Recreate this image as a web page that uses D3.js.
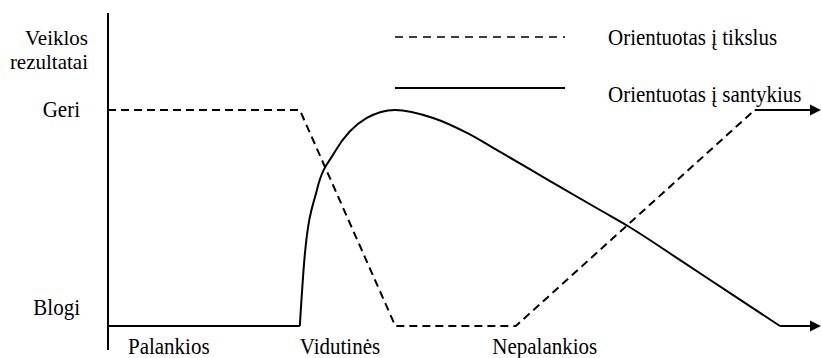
<!DOCTYPE html>
<html><head><meta charset="utf-8">
<script src="https://cdn.jsdelivr.net/npm/d3@7"></script>
<style>body{margin:0;background:#fff}svg{display:block}</style>
</head><body><svg id="c" width="821" height="358"></svg>
<script>
// Conditions (x-axis categories) and their positions on a 0-100 scale
const conditions = ["Palankios", "Vidutinės", "Nepalankios"];
const conditionX = [2.8, 26.9, 53.9];
// Performance levels (y-axis)
const levels = ["Blogi", "Geri"];
const levelY = [0, 1];
const axisTitle = ["Veiklos", "rezultatai"];
// Series
const seriesNames = ["Orientuotas į tikslus", "Orientuotas į santykius"];
// Task-oriented (dashed)
const taskX = [0, 26.9, 40.3, 57.2, 90.7];
const taskY = [1, 1, 0, 0, 1];
const taskArrowX = [90.7, 98.6];
const taskArrowY = [1, 1];
// Relationship-oriented (solid)
const relFlatX = [0, 26.9];
const relFlatY = [0, 0];
const relCurveX = [26.9, 27.6, 29.3, 31.8, 36.3, 40.25, 45.6, 50.35, 55.0, 62.0, 69.0, 72.9, 80.2, 87.2, 94.25];
const relCurveY = [0, 0.329, 0.63, 0.805, 0.963, 1.0, 0.963, 0.894, 0.806, 0.671, 0.537, 0.463, 0.306, 0.153, 0];
const relArrowX = [94.25, 98.6];
const relArrowY = [0, 0];

const FONT = "'Liberation Serif', 'DejaVu Serif', serif";
const svg = d3.select("#c");
const x = d3.scaleLinear().domain([0, 100]).range([108, 821]);
const y = d3.scaleLinear().domain([0, 1]).range([326, 110]);

svg.append("defs").append("marker")
  .attr("id","arr").attr("viewBox","0 0 10 10").attr("refX",1).attr("refY",5)
  .attr("markerWidth",5.5).attr("markerHeight",6.5).attr("markerUnits","strokeWidth")
  .attr("orient","auto")
  .append("path").attr("d","M0,0L10,5L0,10Z").attr("fill","#000");

// y axis line
svg.append("line").attr("x1",x(0)).attr("x2",x(0)).attr("y1",y(1.449)).attr("y2",y(-0.111))
  .attr("stroke","#000").attr("stroke-width",2);

const line = d3.line().x(d=>x(d[0])).y(d=>y(d[1]));
const curve = d3.line().x(d=>x(d[0])).y(d=>y(d[1])).curve(d3.curveMonotoneX);
const zip = (a,b)=>a.map((v,i)=>[v,b[i]]);

const sw = 2;
svg.append("path").attr("d", line(zip(taskX,taskY))).attr("fill","none").attr("stroke","#000")
  .attr("stroke-width",sw).attr("stroke-dasharray","8,5");
svg.append("path").attr("d", line(zip(taskArrowX,taskArrowY))).attr("fill","none").attr("stroke","#000")
  .attr("stroke-width",sw).attr("marker-end","url(#arr)");
svg.append("path").attr("d", line(zip(relFlatX,relFlatY))).attr("fill","none").attr("stroke","#000").attr("stroke-width",sw);
svg.append("path").attr("d", curve(zip(relCurveX,relCurveY))).attr("fill","none").attr("stroke","#000").attr("stroke-width",sw);
svg.append("path").attr("d", line(zip(relArrowX,relArrowY))).attr("fill","none").attr("stroke","#000")
  .attr("stroke-width",sw).attr("marker-end","url(#arr)");

const fs = 21, sy = 1.08;
function label(txt, px, py, anchor, s){
  return svg.append("text").attr("transform",`translate(${px},${py}) scale(1,${s||sy})`)
    .attr("text-anchor",anchor).attr("font-size",fs).attr("font-family",FONT)
    .attr("fill","#000").text(txt);
}
// axis title
label(axisTitle[0], 88, 45, "end", 1);
label(axisTitle[1], 88, 68.5, "end", 1);
// level labels
levels.forEach((l,i)=>label(l, 80, y(levelY[i]) + (i===1?7:-11), "end"));
// condition labels
conditions.forEach((c,i)=>label(c, x(conditionX[i]), 354, "start"));
// legend
const legY = [37, 88];
svg.append("line").attr("x1",395).attr("x2",565).attr("y1",legY[0]).attr("y2",legY[0])
  .attr("stroke","#000").attr("stroke-width",1.5).attr("stroke-dasharray","8,6");
svg.append("line").attr("x1",395).attr("x2",565).attr("y1",legY[1]).attr("y2",legY[1])
  .attr("stroke","#000").attr("stroke-width",2);
seriesNames.forEach((s,i)=>label(s, 608, legY[i] + (i===0?8:14), "start"));
</script></body></html>
